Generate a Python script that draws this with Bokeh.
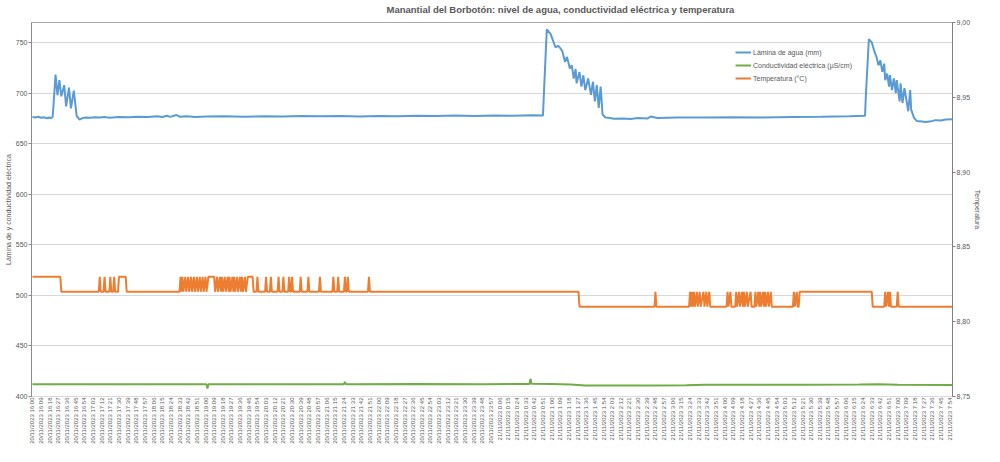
import math
from bokeh.plotting import figure
from bokeh.models import (Range1d, LinearAxis, FixedTicker, CustomJSTickFormatter,
                          Legend, LegendItem, ColumnDataSource, Title)
from bokeh.embed import file_html
from bokeh.resources import INLINE

title_text = "Manantial del Borbotón: nivel de agua, conductividad eléctrica y temperatura"
series_names = ["Lámina de agua (mm)", "Conductividad eléctrica (µS/cm)", "Temperatura (°C)"]
left_title = "Lámina de y conductividad eléctrica"
right_title = "Temperatura"

# x-axis category labels (one every 9 minutes, starting 20/11/2023 16:00)
times_20 = ["16:00", "16:09", "16:18", "16:27", "16:36", "16:45", "16:54", "17:03", "17:12",
            "17:21", "17:30", "17:39", "17:48", "17:57", "18:06", "18:15", "18:24", "18:33",
            "18:42", "18:51", "19:00", "19:09", "19:18", "19:27", "19:36", "19:45", "19:54",
            "20:03", "20:12", "20:21", "20:30", "20:39", "20:48", "20:57", "21:06", "21:15",
            "21:24", "21:33", "21:42", "21:51", "22:00", "22:09", "22:18", "22:27", "22:36",
            "22:45", "22:54", "23:03", "23:12", "23:21", "23:30", "23:39", "23:48", "23:57"]
times_21 = ["0:06", "0:15", "0:24", "0:33", "0:42", "0:51", "1:00", "1:09", "1:18", "1:27",
            "1:36", "1:45", "1:54", "2:03", "2:12", "2:21", "2:30", "2:39", "2:48", "2:57",
            "3:06", "3:15", "3:24", "3:33", "3:42", "3:51", "4:00", "4:09", "4:18", "4:27",
            "4:36", "4:45", "4:54", "5:03", "5:12", "5:21", "5:30", "5:39", "5:48", "5:57",
            "6:06", "6:15", "6:24", "6:33", "6:42", "6:51", "7:00", "7:09", "7:18", "7:27",
            "7:36", "7:45", "7:54"]
tick_labels = ["20/11/2023 " + t for t in times_20] + ["21/11/2023 " + t for t in times_21]

# Water level (mm) -- minutes since 20/11/2023 16:00
level_t = [0, 3, 6, 9, 12, 15, 17, 19, 21, 22, 24, 26, 28, 30, 33, 35, 38, 40, 43, 46, 49,
           52, 56, 60, 65, 70, 75, 80, 90, 100, 110, 120, 130, 135, 140, 143, 150, 153, 160,
           170, 180, 200, 220, 240, 260, 280, 300, 320, 340, 360, 380, 400, 420, 440, 460,
           480, 500, 520, 531, 532, 535, 539, 544, 547, 551, 554, 556, 559, 561, 563, 565,
           566, 569, 571, 573, 575, 578, 581, 583, 585, 587, 589, 591, 593, 596, 599, 605,
           614, 622, 630, 640, 643, 650, 670, 700, 730, 760, 790, 820, 850, 866, 867, 870,
           873, 876, 878, 880, 882, 884, 886, 887, 889, 891, 892, 894, 896, 898, 899, 902,
           903, 905, 907, 911, 913, 914, 917, 920, 925, 929, 935, 939, 945, 950, 957]
level_v = [676.5, 676.0, 676.8, 675.8, 676.3, 675.2, 676.0, 675.5, 676.5, 690.0, 718.5, 698.0,
           713.0, 697.0, 708.0, 687.0, 705.5, 685.0, 702.5, 677.5, 674.0, 675.5, 676.0, 675.7,
           676.3, 676.0, 676.5, 675.8, 676.6, 676.2, 676.8, 676.4, 677.2, 676.5, 677.8, 676.6,
           678.5, 676.8, 677.3, 676.6, 677.0, 677.2, 676.8, 677.3, 677.0, 677.5, 677.2, 677.4,
           677.1, 677.6, 677.3, 677.8, 677.5, 677.9, 677.6, 678.0, 677.8, 678.2, 678.0, 700.0,
           763.3, 758.5, 745.5, 747.0, 742.0, 731.0, 736.0, 724.4, 727.6, 714.6, 724.0, 709.8,
           721.0, 706.5, 717.8, 703.0, 714.6, 698.4, 711.4, 692.0, 708.0, 685.4, 706.5, 679.0,
           676.0, 675.7, 674.8, 675.0, 674.6, 675.5, 675.1, 677.0, 675.6, 675.9, 676.0, 676.2,
           676.1, 676.5, 676.8, 677.3, 677.8, 700.0, 753.6, 750.4, 740.6, 735.8, 727.6, 732.5,
           721.2, 729.3, 713.0, 719.5, 706.5, 717.9, 703.2, 714.6, 700.0, 713.0, 692.0, 709.8,
           690.3, 705.0, 682.2, 703.2, 683.8, 675.7, 672.5, 672.0, 671.5, 672.2, 673.4, 673.0,
           674.0, 674.2]

# Electrical conductivity (µS/cm)
cond_t = [0, 40, 100, 181, 182, 183, 250, 324, 325, 326, 400, 470, 517, 518, 519, 540, 560,
          575, 650, 680, 700, 800, 860, 880, 900, 957]
cond_v = [412.2, 412.0, 412.1, 412.0, 408.0, 412.0, 412.1, 412.2, 414.5, 412.2, 412.3, 412.2,
          412.4, 417.5, 412.6, 412.3, 411.8, 411.0, 410.9, 411.2, 411.6, 411.7, 411.9, 412.0,
          411.6, 411.4]

# Temperature (°C) -- breakpoints
temp_t = [0, 29, 30,
          69, 70, 71, 74, 75, 76, 80, 81, 82, 84, 85, 86, 89, 90, 97, 98,
          153, 154, 155, 156, 157, 159, 160, 162, 163, 165, 166, 168, 169, 171, 172, 174, 175,
          177, 178, 180, 181, 183, 189, 190, 192, 193, 195, 196, 197, 198, 200, 201, 203, 204,
          205, 206, 208, 209, 210, 211, 213, 214, 216, 217, 218, 219, 221, 222, 224, 229, 230,
          233, 234, 235, 242, 243, 244, 247, 248, 249, 255, 256, 257, 260, 261, 262, 266, 267,
          268, 269, 270, 271, 278, 279, 280, 286, 287, 288, 298, 299, 300, 312, 313, 314, 317,
          318, 319, 324, 325, 326, 327, 328, 329, 349, 350, 351,
          568, 569,
          647, 648, 649,
          683, 684, 685, 686, 687, 688, 689, 691, 692, 694, 695, 698, 699, 701, 702, 704, 705,
          722, 723, 724, 726, 727,
          731, 732, 733, 735, 736, 738, 739, 740, 741, 743, 744, 747, 748,
          751, 752, 753, 755, 756, 757, 758, 760, 761, 762, 763, 765, 766, 768, 769,
          791, 792, 793, 795, 796, 797, 798, 873, 874,
          886, 887, 888, 890, 891, 892, 893, 899, 900, 901, 957]
temp_v = [8.83, 8.83, 8.82,
          8.82, 8.83, 8.82, 8.82, 8.83, 8.82, 8.82, 8.83, 8.82, 8.82, 8.83, 8.82, 8.82, 8.83,
          8.83, 8.82,
          8.82, 8.83, 8.82, 8.83, 8.82, 8.83, 8.82, 8.83, 8.82, 8.83, 8.82, 8.83, 8.82, 8.83,
          8.82, 8.83, 8.82, 8.83, 8.82, 8.83, 8.82, 8.83, 8.83, 8.82, 8.83, 8.82, 8.83, 8.82,
          8.83, 8.82, 8.83, 8.82, 8.83, 8.82, 8.83, 8.82, 8.83, 8.82, 8.83, 8.82, 8.83, 8.82,
          8.83, 8.82, 8.83, 8.82, 8.83, 8.82, 8.83, 8.83, 8.82,
          8.82, 8.83, 8.82, 8.82, 8.83, 8.82, 8.82, 8.83, 8.82, 8.82, 8.83, 8.82, 8.82, 8.83,
          8.82, 8.82, 8.83, 8.82, 8.82, 8.83, 8.82, 8.82, 8.83, 8.82, 8.82, 8.83, 8.82, 8.82,
          8.83, 8.82, 8.82, 8.83, 8.82, 8.82, 8.83, 8.82, 8.82, 8.83, 8.82, 8.82, 8.83, 8.82,
          8.82, 8.83, 8.82,
          8.82, 8.81,
          8.81, 8.82, 8.81,
          8.81, 8.82, 8.81, 8.82, 8.81, 8.82, 8.81, 8.82, 8.81, 8.82, 8.81, 8.82, 8.81, 8.82,
          8.81, 8.82, 8.81,
          8.81, 8.82, 8.81, 8.82, 8.81,
          8.81, 8.82, 8.81, 8.82, 8.81, 8.82, 8.81, 8.82, 8.81, 8.82, 8.81, 8.82, 8.81,
          8.81, 8.82, 8.81, 8.82, 8.81, 8.82, 8.81, 8.82, 8.81, 8.82, 8.81, 8.82, 8.81, 8.82,
          8.81,
          8.81, 8.82, 8.81, 8.82, 8.81, 8.81, 8.82, 8.82, 8.81,
          8.81, 8.82, 8.81, 8.82, 8.81, 8.82, 8.81, 8.81, 8.82, 8.81, 8.81]

left_ticks = [400, 450, 500, 550, 600, 650, 700, 750]
right_ticks = [8.75, 8.80, 8.85, 8.90, 8.95, 9.00]

BLUE = "#5b9bd5"
GREEN = "#70ad47"
ORANGE = "#ed7d31"
TXT = "#595959"
FONT = "Liberation Sans"

p = figure(width=984, height=446, output_backend="svg", toolbar_location=None, title=None,
           x_range=Range1d(-1, 957), y_range=Range1d(400, 770),
           min_border_left=31, min_border_right=27, min_border_top=22, min_border_bottom=47,
           background_fill_color="white", border_fill_color="white")
p.extra_y_ranges = {"temp": Range1d(8.75, 9.00)}

# spacer (closest to the frame) then the chart title above it
spacer = Title(text=" ", text_font=FONT, text_font_size="6px", standoff=0)
chart_title = Title(text=title_text, align="left", offset=355, standoff=0,
                    text_font=FONT, text_font_size="9.5px", text_font_style="bold",
                    text_color=TXT)
p.add_layout(spacer, "above")
p.add_layout(chart_title, "above")

p.outline_line_color = "#a6a6a6"
p.xgrid.visible = False
p.ygrid.ticker = FixedTicker(ticks=left_ticks)
p.ygrid.grid_line_color = "#d9d9d9"

# left axis
ya = p.yaxis[0]
ya.ticker = FixedTicker(ticks=left_ticks)
ya.axis_label = left_title
ya.axis_label_text_font = FONT
ya.axis_label_text_font_size = "7px"
ya.axis_label_text_font_style = "normal"
ya.axis_label_text_color = TXT
ya.axis_label_standoff = 1
ya.major_label_text_font = FONT
ya.major_label_text_font_size = "7px"
ya.major_label_text_color = TXT
ya.major_label_standoff = 1
ya.major_tick_out = 3
ya.major_tick_in = 0
ya.minor_tick_out = 0
ya.minor_tick_in = 0
ya.axis_line_color = "#8c8c8c"
ya.major_tick_line_color = "#8c8c8c"

# right axis
ra = LinearAxis(y_range_name="temp", ticker=FixedTicker(ticks=right_ticks))
ra.formatter = CustomJSTickFormatter(code="return tick.toFixed(2).replace('.', ',');")
ra.axis_label = right_title
ra.axis_label_text_font = FONT
ra.axis_label_text_font_size = "7px"
ra.axis_label_text_font_style = "normal"
ra.axis_label_text_color = TXT
ra.axis_label_standoff = 1
ra.major_label_text_font = FONT
ra.major_label_text_font_size = "7px"
ra.major_label_text_color = TXT
ra.major_label_standoff = 1
ra.major_tick_out = 3
ra.major_tick_in = 0
ra.minor_tick_out = 0
ra.minor_tick_in = 0
ra.axis_line_color = "#7f7f7f"
ra.major_tick_line_color = "#7f7f7f"
p.add_layout(ra, "right")

# x axis
tick_pos = [9 * i for i in range(len(tick_labels))]
xa = p.xaxis[0]
xa.ticker = FixedTicker(ticks=tick_pos)
xa.major_label_overrides = {t: lab for t, lab in zip(tick_pos, tick_labels)}
xa.major_label_orientation = math.pi / 2
xa.major_label_text_font = FONT
xa.major_label_text_font_size = "6px"
xa.major_label_text_color = TXT
xa.major_label_standoff = 1
xa.major_tick_out = 0
xa.major_tick_in = 0
xa.minor_tick_out = 0
xa.minor_tick_in = 0
xa.axis_line_color = "#d9d9d9"

src_level = ColumnDataSource(dict(x=level_t, y=level_v))
src_cond = ColumnDataSource(dict(x=cond_t, y=cond_v))
src_temp = ColumnDataSource(dict(x=temp_t, y=temp_v))

r1 = p.line("x", "y", source=src_level, line_color=BLUE, line_width=2)
r2 = p.line("x", "y", source=src_cond, line_color=GREEN, line_width=2)
r3 = p.line("x", "y", source=src_temp, line_color=ORANGE, line_width=2, y_range_name="temp")

legend = Legend(items=[LegendItem(label=series_names[0], renderers=[r1]),
                       LegendItem(label=series_names[1], renderers=[r2]),
                       LegendItem(label=series_names[2], renderers=[r3])],
                location=(704, 312), orientation="vertical",
                border_line_color=None, background_fill_alpha=0,
                label_text_font=FONT, label_text_font_size="7px", label_text_color=TXT,
                glyph_width=16, glyph_height=12, label_height=12, spacing=1,
                padding=0, margin=0, label_standoff=2)
p.add_layout(legend)

open("out.html", "w").write(file_html(p, INLINE))
